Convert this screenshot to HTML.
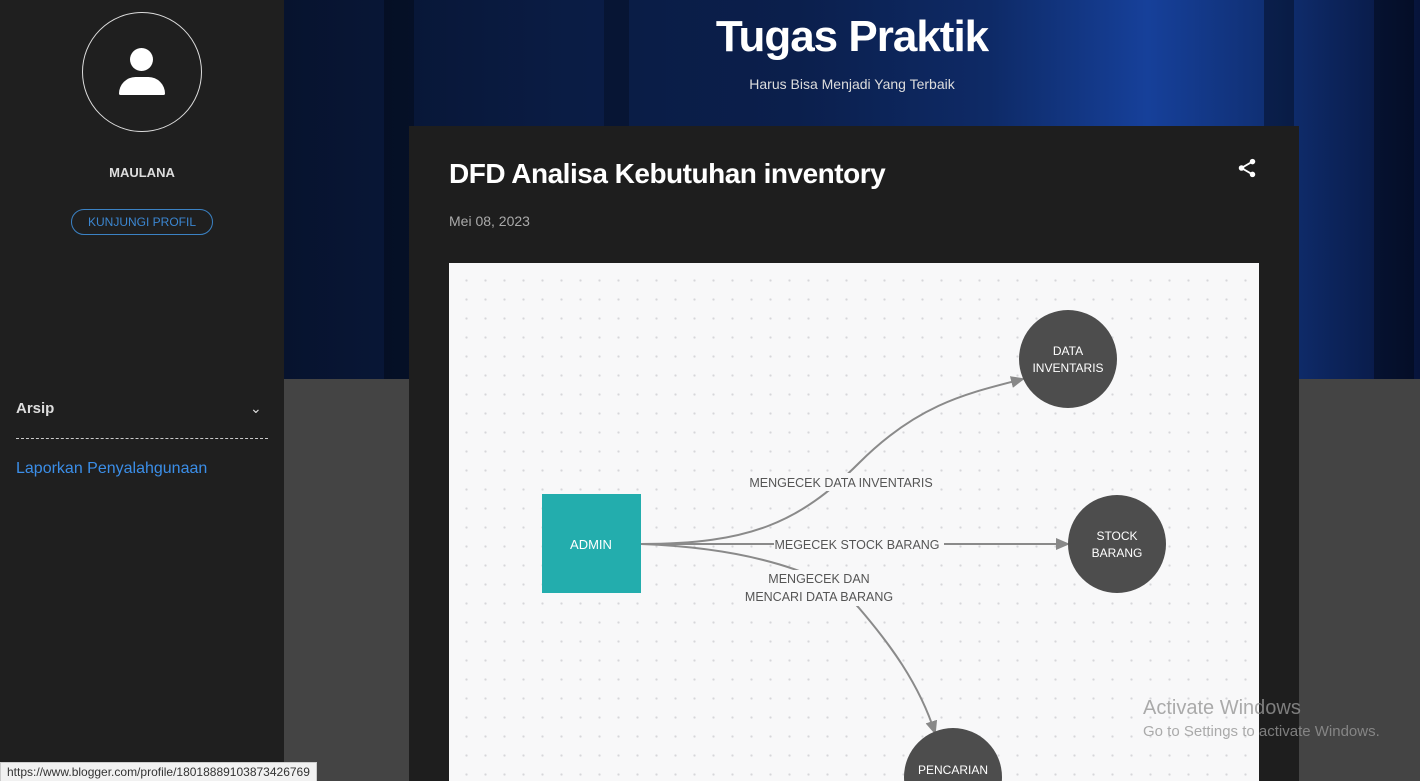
<!DOCTYPE html>
<html><head><style>
html,body{margin:0;width:1420px;height:781px;overflow:hidden}
body{position:relative;font-family:"Liberation Sans",sans-serif;background:#444}
.side{position:absolute;left:0;top:0;width:284px;height:781px;background:#1f1f1f}
.hdr{position:absolute;left:284px;top:0;width:1136px;height:379px;overflow:hidden;background:linear-gradient(90deg,#07132e 0%,#0a1c44 25%,#0b1f4c 45%,#0e2a66 62%,#16409a 76%,#0f2d6e 88%,#07143a 100%)}
.card{position:absolute;left:409px;top:126px;width:890px;height:655px;background:#1e1e1e;overflow:hidden}
.dia{position:absolute;left:449px;top:263px;width:810px;height:518px;overflow:hidden;background-color:#f8f8f9;background-image:radial-gradient(#d6d6da 1px,transparent 1.3px);background-size:19px 19px;background-position:8px 8px}
</style></head><body>
<div class="side">
 <div style="position:absolute;left:82px;top:12px;width:118px;height:118px;border:1px solid #ddd;border-radius:50%"></div>
 <div style="position:absolute;left:130px;top:48px;width:23px;height:23px;border-radius:50%;background:#fff"></div>
 <div style="position:absolute;left:119px;top:77px;width:46px;height:18px;border-radius:23px 23px 2px 2px;background:#fff"></div>
 <div style="position:absolute;left:0;width:284px;top:165px;text-align:center;color:#ddd;font-weight:bold;font-size:13px">MAULANA</div>
 <div style="position:absolute;left:71px;top:209px;width:140px;height:24px;border:1px solid #3b82c4;border-radius:13px;color:#3b86d0;font-size:12px;text-align:center;line-height:24px">KUNJUNGI PROFIL</div>
 <div style="position:absolute;left:16px;top:400px;color:#ddd;font-weight:bold;font-size:15px">Arsip</div>
 <div style="position:absolute;left:250px;top:400px;color:#ddd;font-size:14px">&#8964;</div>
 <div style="position:absolute;left:16px;top:438px;width:252px;border-top:1px dashed #ccc"></div>
 <div style="position:absolute;left:16px;top:460px;color:#3b8ee8;font-size:16px">Laporkan Penyalahgunaan</div>
</div>
<div class="hdr">
 <div style="position:absolute;left:100px;top:0;width:30px;height:379px;background:rgba(0,0,0,.3)"></div>
 <div style="position:absolute;left:320px;top:0;width:25px;height:379px;background:rgba(0,0,0,.25)"></div>
 <div style="position:absolute;left:980px;top:0;width:30px;height:379px;background:rgba(0,0,0,.35)"></div>
 <div style="position:absolute;left:1090px;top:0;width:40px;height:379px;background:rgba(0,0,0,.35)"></div>
 <div style="position:absolute;left:0;width:1136px;top:12px;text-align:center;color:#fff;font-weight:bold;font-size:44px;letter-spacing:-1px">Tugas Praktik</div>
 <div style="position:absolute;left:0;width:1136px;top:76px;text-align:center;color:#ddd;font-size:14px">Harus Bisa Menjadi Yang Terbaik</div>
</div>
<div class="card">
 <div style="position:absolute;left:40px;top:32px;color:#fff;font-weight:bold;font-size:28px;letter-spacing:-0.5px">DFD Analisa Kebutuhan inventory</div>
 <svg style="position:absolute;left:827px;top:31px" width="22" height="22" viewBox="0 0 24 24"><circle cx="18" cy="5" r="3" fill="#fff"/><circle cx="6" cy="12" r="3" fill="#fff"/><circle cx="18" cy="19" r="3" fill="#fff"/><path d="M18 5L6 12L18 19" stroke="#fff" stroke-width="2" fill="none"/></svg>
 <div style="position:absolute;left:40px;top:87px;color:#aaa;font-size:14px">Mei 08, 2023</div>
</div>
<div class="dia">
<svg width="810" height="518" style="position:absolute;left:0;top:0;display:block">
<defs><marker id="a" markerWidth="14" markerHeight="12" refX="12" refY="6" orient="auto" markerUnits="userSpaceOnUse"><path d="M0,0 L14,6 L0,12z" fill="#888"/></marker></defs>
<g fill="none" stroke="#8a8a8a" stroke-width="2">
<path d="M192,281 C300,281 350,260 410,200 S520,130 574,116" marker-end="url(#a)"/>
<path d="M192,281 L619,281" marker-end="url(#a)"/>
<path d="M192,281 C300,285 380,310 410,345 C440,380 470,420 486,470" marker-end="url(#a)"/>
</g>
<rect x="93" y="231" width="99" height="99" fill="#23adad"/>
<text x="142" y="286" fill="#fff" font-size="13" text-anchor="middle" font-family="Liberation Sans">ADMIN</text>
<circle cx="619" cy="96" r="49" fill="#4d4d4d"/>
<circle cx="668" cy="281" r="49" fill="#4d4d4d"/>
<circle cx="504" cy="514" r="49" fill="#4d4d4d"/>
<g fill="#fff" font-size="12" text-anchor="middle" font-family="Liberation Sans">
<text x="619" y="92">DATA</text><text x="619" y="109">INVENTARIS</text>
<text x="668" y="277">STOCK</text><text x="668" y="294">BARANG</text>
<text x="504" y="511">PENCARIAN</text>
</g>
<rect x="298" y="210" width="190" height="18" fill="#f8f8f9"/>
<rect x="325" y="272" width="170" height="18" fill="#f8f8f9"/>
<rect x="295" y="307" width="155" height="36" fill="#f8f8f9"/>
<g fill="#555" font-size="12.5" text-anchor="middle" font-family="Liberation Sans">
<text x="392" y="224">MENGECEK DATA INVENTARIS</text>
<text x="408" y="286">MEGECEK STOCK BARANG</text>
<text x="370" y="320">MENGECEK DAN</text>
<text x="370" y="338">MENCARI DATA BARANG</text>
</g>
</svg>
</div>
<div style="position:absolute;left:1143px;top:697px;color:rgba(150,150,150,.8);font-size:20px">Activate Windows</div>
<div style="position:absolute;left:1143px;top:723px;color:rgba(150,150,150,.8);font-size:15px">Go to Settings to activate Windows.</div>
<div style="position:absolute;left:0;top:762px;height:19px;box-sizing:border-box;padding:0 6px;background:#f1f1f1;border:1px solid #ccc;border-bottom:none;color:#333;font-size:12px;line-height:18px">https://www.blogger.com/profile/18018889103873426769</div>
</body></html>
